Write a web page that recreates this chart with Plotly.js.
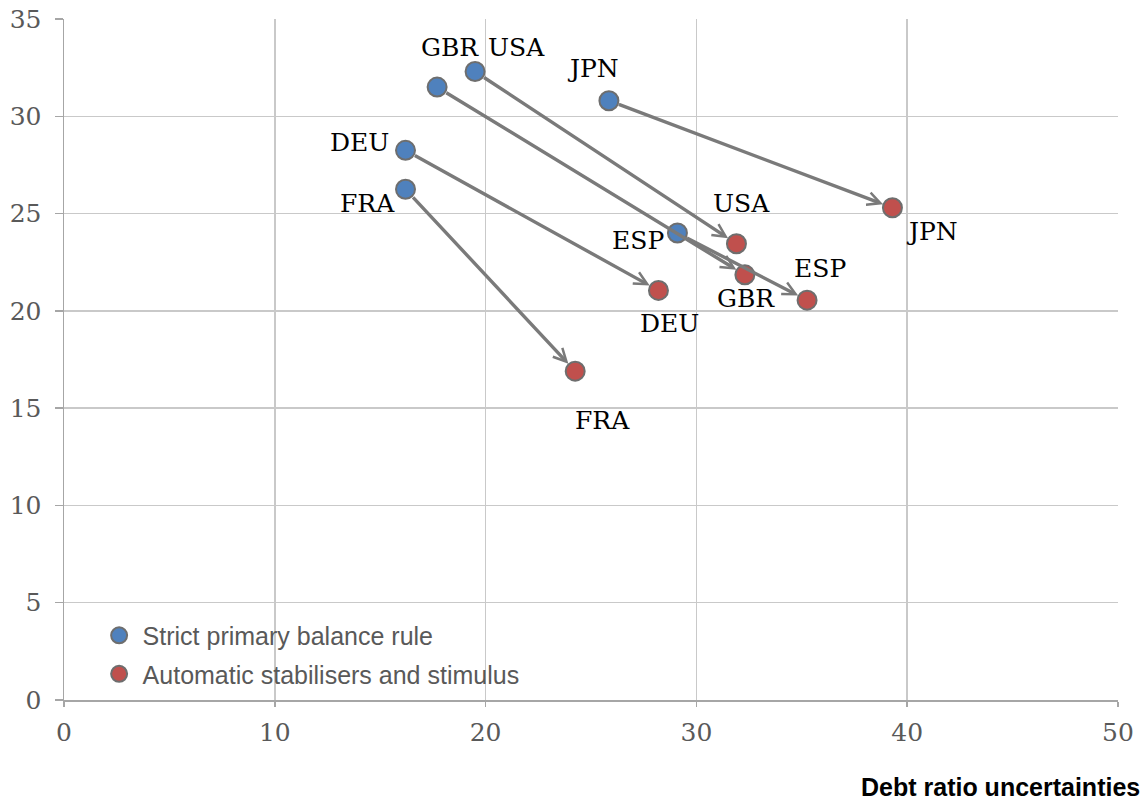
<!DOCTYPE html>
<html>
<head>
<meta charset="utf-8">
<script src="https://cdn.plot.ly/plotly-3.0.1.min.js"></script>
<style>html,body{margin:0;padding:0;background:#fff;}#chart{width:1145px;height:804px;}</style>
</head>
<body>
<div id="chart"></div>
<script>
// Data
const countries = ["GBR", "USA", "JPN", "DEU", "FRA", "ESP"];
const strictX = [17.7, 19.5, 25.85, 16.2, 16.2, 29.1];
const strictY = [31.5, 32.3, 30.8, 28.25, 26.25, 24.0];
const autoX = [32.3, 31.9, 39.3, 28.2, 24.25, 35.25];
const autoY = [21.85, 23.45, 25.3, 21.05, 16.9, 20.55];
const seriesNames = ["Strict primary balance rule", "Automatic stabilisers and stimulus"];
const xTicks = [0, 10, 20, 30, 40, 50];
const yTicks = [0, 5, 10, 15, 20, 25, 30, 35];

// Label offsets (pixels) – styling only
const strictLabelShift = [[13, 40], [41, 24], [-16, 32], [-46, 8], [-38, -14], [-39, -7]];
const autoLabelShift = [[1, -24], [5, 40], [40, -24], [11, -33], [27, -49], [13, 32]];

const serif = "Century Schoolbook, 'DejaVu Serif', serif";
const sans = "'Liberation Sans', Arial, sans-serif";
const markerStyle = (c) => ({ size: 19, color: c, line: { color: "#6e6e6e", width: 2 } });

const traces = [
  { x: strictX, y: strictY, type: "scatter", mode: "markers", name: seriesNames[0], marker: markerStyle("#4f81bd"), legendgroup: "a" },
  { x: autoX, y: autoY, type: "scatter", mode: "markers", name: seriesNames[1], marker: markerStyle("#c0504d"), legendgroup: "b" }
];

const annotations = [];
countries.forEach((c, i) => {
  annotations.push({
    x: autoX[i], y: autoY[i], ax: strictX[i], ay: strictY[i],
    xref: "x", yref: "y", axref: "x", ayref: "y",
    showarrow: true, arrowhead: 5, arrowsize: 0.75, arrowwidth: 3.4, arrowcolor: "#7a7a7a",
    standoff: 10, startstandoff: 9, text: ""
  });
});
countries.forEach((c, i) => {
  annotations.push({
    x: strictX[i], y: strictY[i], xref: "x", yref: "y", text: c, showarrow: false,
    xshift: strictLabelShift[i][0], yshift: strictLabelShift[i][1],
    font: { family: serif, size: 25, color: "#000" }
  });
  annotations.push({
    x: autoX[i], y: autoY[i], xref: "x", yref: "y", text: c, showarrow: false,
    xshift: autoLabelShift[i][0], yshift: autoLabelShift[i][1],
    font: { family: serif, size: 25, color: "#000" }
  });
});
annotations.push({
  text: "<b>Debt ratio uncertainties</b>", xref: "paper", yref: "paper",
  x: 1.0228, y: -0.1512, xanchor: "right", yanchor: "bottom", showarrow: false,
  font: { family: sans, size: 25, color: "#000" }
});

const layout = {
  width: 1145, height: 804,
  margin: { l: 64, r: 27, t: 19, b: 104 },
  paper_bgcolor: "#fff", plot_bgcolor: "#fff",
  showlegend: true,
  legend: {
    x: 0.03, y: 0.005, xanchor: "left", yanchor: "bottom",
    font: { family: sans, size: 25, color: "#595959" },
    bgcolor: "rgba(0,0,0,0)", tracegroupgap: 3, itemwidth: 37
  },
  xaxis: {
    range: [0, 50], tickvals: xTicks, ticktext: xTicks.map(String),
    showgrid: true, gridcolor: "#c9c9c9", gridwidth: 1.5,
    zeroline: false, showline: true, linecolor: "#a6a6a6", linewidth: 2,
    ticks: "outside", ticklen: 5, tickcolor: "#a6a6a6", tickwidth: 1.5,
    ticklabelstandoff: 4,
    tickfont: { family: serif, size: 25, color: "#595959" }, fixedrange: true
  },
  yaxis: {
    range: [0, 35], tickvals: yTicks, ticktext: yTicks.map(String),
    showgrid: true, gridcolor: "#c9c9c9", gridwidth: 1.5,
    zeroline: false, showline: true, linecolor: "#a6a6a6", linewidth: 1.5,
    ticks: "outside", ticklen: 8, tickcolor: "#a6a6a6", tickwidth: 1.5,
    ticklabelstandoff: 8,
    tickfont: { family: serif, size: 25, color: "#595959" }, fixedrange: true
  },
  annotations: annotations
};

Plotly.newPlot("chart", traces, layout, { displayModeBar: false, staticPlot: true });
</script>
</body>
</html>
